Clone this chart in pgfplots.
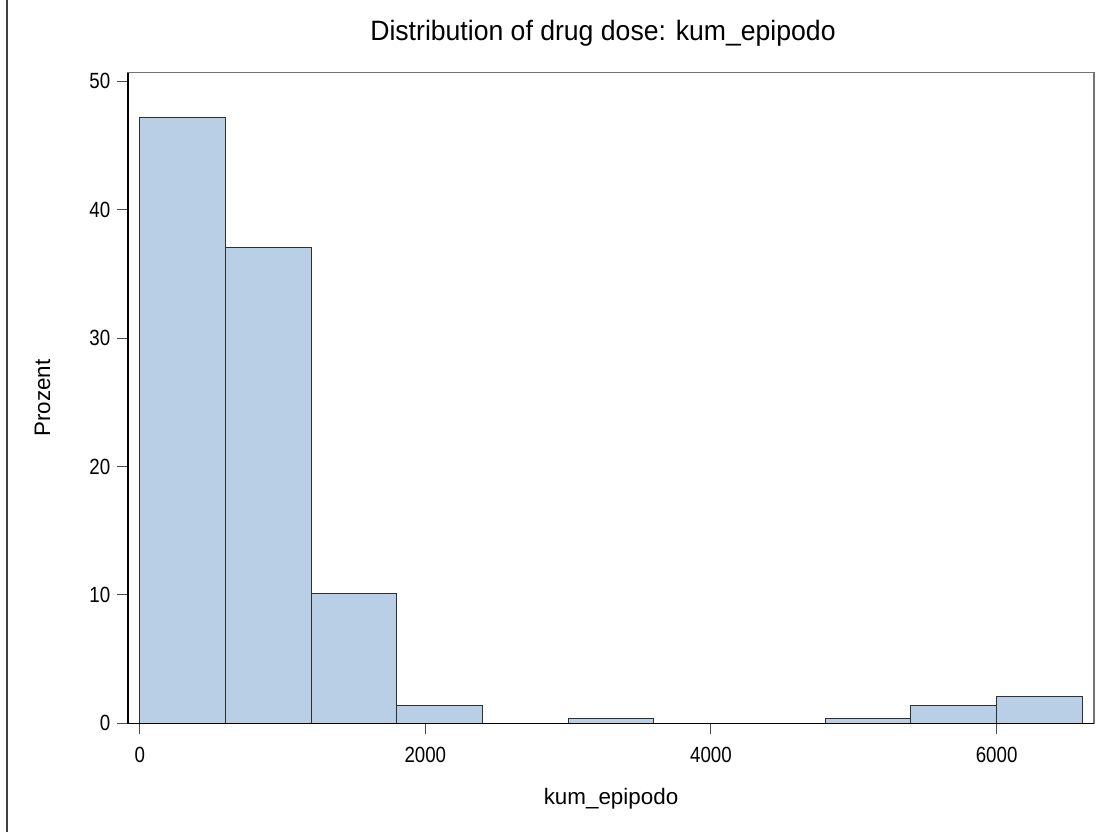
\documentclass[border=0pt]{standalone}
\usepackage{fontspec}
\setmainfont{Liberation Sans}
\newfontfamily\tickfont[FakeStretch=0.85]{Liberation Sans}
\newfontfamily\titlefont[FakeStretch=0.95]{Liberation Sans}
\usepackage{pgfplots}
\pgfplotsset{compat=1.18}
\definecolor{barfill}{HTML}{B9CFE6}
\definecolor{baredge}{HTML}{303030}
\begin{document}
\begin{tikzpicture}
% page frame: 1113 x 832 units of 0.75pt
\useasboundingbox (0,0) rectangle (834.75pt,624pt);
\draw[black!75, line width=1.1pt] (5.25pt,0pt) -- (5.25pt,624pt);
\begin{axis}[
  at={(96pt,81.5pt)}, anchor=south west,
  scale only axis, width=724.5pt, height=488pt,
  xmin=-82, xmax=6682, ymin=0, ymax=50.67,
  xtick={0,2000,4000,6000}, ytick={0,10,20,30,40,50},
  xtick pos=bottom, ytick pos=left,
  tick align=outside, major tick length=8.25pt,
  tick style={black!70, line width=0.75pt},
  axis line style={black!55, line width=0.9pt},
  /pgf/number format/assume math mode=true,
  /pgf/number format/1000 sep={},
  ticklabel style={font=\tickfont\fontsize{16.5}{19}\selectfont},
  xticklabel style={yshift=-6pt},
  yticklabel style={xshift=-1.5pt},
  title={Distribution of drug dose: kum\_epipodo},
  title style={font=\titlefont\fontsize{21}{24}\selectfont, at={(axis description cs:0.4917,1.048)}, anchor=center},
  xlabel={kum\_epipodo},
  xlabel style={font=\fontsize{16.8}{20}\selectfont, at={(axis description cs:0.5,-0.1164)}, anchor=center},
  ylabel={Prozent},
  ylabel style={font=\fontsize{16.8}{20}\selectfont, at={(axis description cs:-0.0885,0.5)}, anchor=center},
  clip=false,
]
% percentage of patients per 600-unit dose bin
\addplot[ybar interval, fill=barfill, draw=baredge, line width=0.75pt] coordinates {
  (0,47.2) (600,37.04) (1200,10.12) (1800,1.37) (2400,0) (3000,0.34)
  (3600,0) (4200,0) (4800,0.34) (5400,1.37) (6000,2.1) (6600,2.1)
};
\draw[black, line width=0.9pt] (rel axis cs:0,1) -- (rel axis cs:0,0) -- (rel axis cs:1,0);
\end{axis}
\end{tikzpicture}
\end{document}
